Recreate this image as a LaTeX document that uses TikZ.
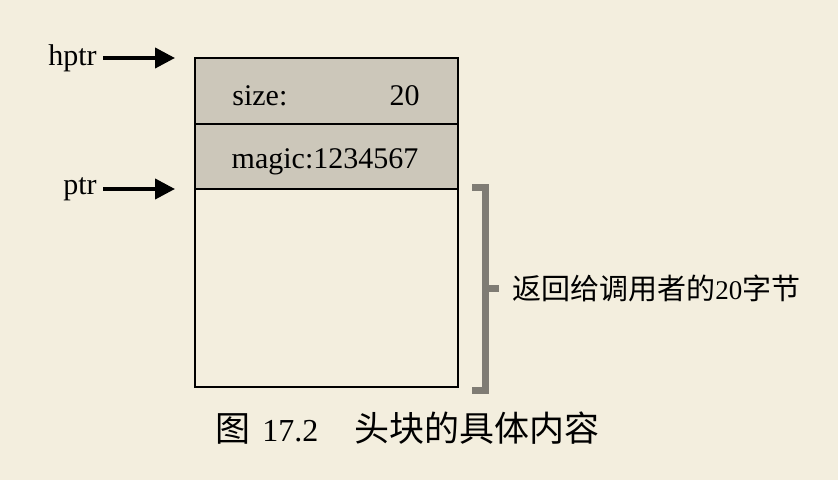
\documentclass[tikz,border=0pt]{standalone}
\usepackage{fontspec}
\setmainfont{Liberation Serif}
\newfontfamily\cjk{Noto Sans CJK SC}
\usetikzlibrary{positioning,arrows.meta}

\definecolor{paper}{HTML}{F3EEDE}
\definecolor{cell}{HTML}{CCC7BA}
\definecolor{brack}{HTML}{7F7C74}

\tikzset{
  cellbox/.style={draw, line width=1pt, minimum width=131.5pt, outer sep=0pt, inner sep=0pt},
  ptrarrow/.style={line width=2pt, -{Triangle[length=10pt,width=10pt]}},
  brackline/.style={brack, line width=3.5pt},
}

\begin{document}
\begin{tikzpicture}[x=0.5pt, y=-0.5pt, font=\fontsize{15}{18}\selectfont]

\fill[paper] (0,0) rectangle (838,480);
\useasboundingbox (0,0) rectangle (838,480);

% the block: header cells and the part handed out
\node[cellbox, fill=cell, minimum height=33pt] (head1) at (326.5,91) {};
\node[cellbox, fill=cell, minimum height=32.5pt, below=0pt of head1] (head2) {};
\node[cellbox, minimum height=99pt, below=0pt of head2] (body) {};

\node[anchor=west, inner sep=0pt] (sizelbl) at (232,96) {size:};
\node[anchor=east, inner sep=0pt] (sizeval) at (420,96) {20};
\node[anchor=base, inner sep=0pt] (magic) at (325,169) {magic:1234567};

% pointers
\node[anchor=east, inner sep=0pt] (hptr) at (97,58) {hptr};
\draw[ptrarrow] ([xshift=3pt]hptr.east) -- ([xshift=-10pt]head1.north west);
\node[anchor=east, inner sep=0pt] (ptr) at (97,189) {ptr};
\draw[ptrarrow] ([xshift=3pt]ptr.east) -- ([xshift=-10pt]body.north west);

% bracket
\draw[brackline] (472,188) -- (485.5,188) -- (485.5,390) -- (472,390);
\coordinate (mid) at (485.5,288.5);
\node[anchor=west, inner sep=0pt, font=\cjk\fontsize{14.5}{17}\selectfont] (ret) at (512,288.5)
  {返回给调用者的{\rmfamily\fontsize{13.5}{17}\selectfont 20}字节};
\draw[brackline] (mid) -- ++(13.5,0);

\node[anchor=west, inner sep=0pt, font=\fontsize{16}{20}\selectfont] (caption) at (215.5,428)
  {{\cjk\fontsize{17.5}{21}\selectfont 图}\hspace{5.75pt}17.2\hspace{18pt}{\cjk\fontsize{17.5}{21}\selectfont 头块的具体内容}};

\end{tikzpicture}
\end{document}
